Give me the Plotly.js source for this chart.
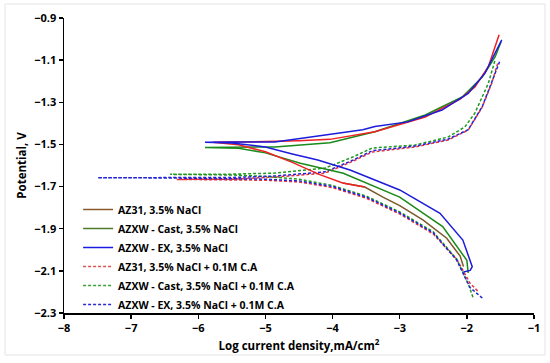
<!DOCTYPE html>
<html>
<head>
<meta charset="utf-8">
<script src="https://cdn.plot.ly/plotly-3.0.1.min.js"></script>
<style>html,body{margin:0;padding:0;background:#fff;}#chart{width:550px;height:363px;}</style>
</head>
<body>
<div id="chart"></div>
<script>
// Series data: log current density (mA/cm2) vs potential (V)
// AZ31, 3.5% NaCl (solid) - upper part red, lower cathodic part brown
const az31_logi = [-3.52, -3.85, -4.2, -4.6, -5.0, -5.4, -5.78, -5.4, -5.0, -4.5, -4.04, -3.37, -2.62, -2.1, -1.88, -1.68, -1.52];
const az31_E    = [-1.702, -1.683, -1.642, -1.585, -1.535, -1.502, -1.490, -1.489, -1.486, -1.482, -1.476, -1.440, -1.370, -1.285, -1.227, -1.131, -0.980];
const az31Low_logi = [-2.05, -2.1, -2.3, -2.65, -3.0, -3.25, -3.52, -3.85];
const az31Low_E    = [-2.080, -2.030, -1.945, -1.859, -1.790, -1.750, -1.702, -1.683];
// AZXW - Cast, 3.5% NaCl (solid)
const cast_logi = [-1.98, -2.0, -2.36, -3.0, -3.84, -4.48, -5.0, -5.4, -5.9, -5.4, -4.86, -4.04, -3.37, -2.62, -2.07, -1.77, -1.58, -1.49];
const cast_E    = [-2.110, -2.050, -1.890, -1.750, -1.637, -1.589, -1.540, -1.518, -1.514, -1.513, -1.512, -1.492, -1.440, -1.360, -1.275, -1.180, -1.085, -1.013];
// AZXW - EX, 3.5% NaCl (solid)
const ex_logi = [-2.05, -1.95, -1.92, -2.06, -2.40, -3.0, -3.74, -4.22, -4.6, -5.0, -5.5, -5.9, -5.5, -4.86, -4.11, -3.55, -3.37, -2.88, -2.37, -1.98, -1.73, -1.48];
const ex_E    = [-2.105, -2.098, -2.080, -1.954, -1.827, -1.716, -1.621, -1.574, -1.545, -1.512, -1.493, -1.490, -1.489, -1.488, -1.455, -1.430, -1.415, -1.393, -1.337, -1.258, -1.162, -1.004];
// AZ31, 3.5% NaCl + 0.1M C.A (dashed)
const az31CA_logi = [-1.84, -1.95, -2.15, -2.5, -3.0, -3.5, -4.0, -4.5, -5.0, -5.5, -6.32, -5.5, -4.86, -4.11, -3.7, -3.41, -2.77, -2.28, -1.98, -1.77, -1.63, -1.54];
const az31CA_E    = [-2.195, -2.160, -2.045, -1.925, -1.830, -1.755, -1.705, -1.678, -1.670, -1.668, -1.666, -1.665, -1.655, -1.636, -1.580, -1.536, -1.512, -1.479, -1.432, -1.322, -1.210, -1.115];
// AZXW - Cast, 3.5% NaCl + 0.1M C.A (dashed)
const castCA_logi = [-1.91, -1.97, -2.15, -2.5, -3.0, -3.5, -4.0, -4.5, -5.0, -5.5, -6.42, -5.5, -4.86, -4.11, -3.7, -3.41, -2.77, -2.28, -2.03, -1.88, -1.68, -1.58];
const castCA_E    = [-2.225, -2.170, -2.045, -1.915, -1.820, -1.745, -1.695, -1.665, -1.652, -1.645, -1.642, -1.641, -1.636, -1.612, -1.560, -1.517, -1.503, -1.465, -1.417, -1.351, -1.210, -1.100];
// AZXW - EX, 3.5% NaCl + 0.1M C.A (dashed)
const exCA_logi = [-1.77, -1.95, -2.15, -2.5, -3.0, -3.5, -4.0, -4.5, -5.0, -5.5, -6.5, -7.5, -6.5, -5.5, -4.86, -4.11, -3.7, -3.41, -2.77, -2.28, -1.98, -1.77, -1.63, -1.51];
const exCA_E    = [-2.229, -2.180, -2.050, -1.920, -1.825, -1.750, -1.700, -1.673, -1.665, -1.662, -1.659, -1.658, -1.658, -1.657, -1.650, -1.630, -1.575, -1.530, -1.508, -1.475, -1.430, -1.320, -1.205, -1.105];

const legendNames = ["AZ31, 3.5% NaCl", "AZXW - Cast, 3.5% NaCl", "AZXW - EX, 3.5% NaCl",
  "AZ31, 3.5% NaCl + 0.1M C.A", "AZXW - Cast, 3.5% NaCl + 0.1M C.A", "AZXW - EX, 3.5% NaCl + 0.1M C.A"];
const legendColors = ["#8a5a2b", "#4f7a28", "#1a1ae0", "#d9534f", "#3aa03a", "#2a2ad0"];
const legendDash = ["solid", "solid", "solid", "3px,2px", "3px,2px", "3px,2px"];
const xTicks = [-8, -7, -6, -5, -4, -3, -2, -1];
const yTicks = [-0.9, -1.1, -1.3, -1.5, -1.7, -1.9, -2.1, -2.3];

const W = 1.5;
const dsh = "3px,2px";
function tr(x, y, color, dash) {
  return {x: x, y: y, mode: "lines", type: "scatter", showlegend: false, hoverinfo: "skip",
          line: {color: color, width: W, dash: dash}};
}
const data = [
  tr(az31CA_logi, az31CA_E, "#e8333a", dsh),
  tr(castCA_logi, castCA_E, "#1f9a1f", dsh),
  tr(exCA_logi, exCA_E, "#2323d6", dsh),
  tr(az31Low_logi, az31Low_E, "#7a5a2a", "solid"),
  tr(cast_logi, cast_E, "#1a8a1a", "solid"),
  tr(az31_logi, az31_E, "#ee2222", "solid"),
  tr(ex_logi, ex_E, "#1c1cdc", "solid")
];
for (let i = 0; i < legendNames.length; i++) {
  data.push({x: [null], y: [null], mode: "lines", type: "scatter", name: legendNames[i],
    showlegend: true, line: {color: legendColors[i], width: 1.5, dash: legendDash[i]}});
}

const fontFam = "'Open Sans', 'Noto Sans', sans-serif";
const layout = {
  width: 550, height: 363,
  margin: {l: 64, r: 16, t: 18, b: 50},
  paper_bgcolor: "#ffffff", plot_bgcolor: "#ffffff",
  showlegend: true,
  font: {family: fontFam, color: "#000", size: 11, weight: 700},
  xaxis: {
    range: [-8, -1], tickvals: xTicks, ticktext: xTicks.map(v => "\u2212" + Math.abs(v)),
    showgrid: false, zeroline: false, showline: true, linecolor: "#000", linewidth: 1.5,
    ticks: "outside", ticklen: 4, tickwidth: 1.5, tickcolor: "#000",
    tickfont: {family: fontFam, size: 11, color: "#000", weight: 700},
    title: {text: "Log current density,mA/cm<sup>2</sup>", font: {family: fontFam, size: 11.5, color: "#000", weight: 700}, standoff: 8}
  },
  yaxis: {
    range: [-2.3, -0.9], tickvals: yTicks, ticktext: yTicks.map(v => "\u2212" + Math.abs(v).toFixed(1)),
    showgrid: false, zeroline: false, showline: true, linecolor: "#000", linewidth: 1.5,
    ticks: "outside", ticklen: 4, tickwidth: 1.5, tickcolor: "#000",
    tickfont: {family: fontFam, size: 11, color: "#000", weight: 700},
    title: {text: "Potential, V", font: {family: fontFam, size: 11.5, color: "#000", weight: 700}, standoff: 5}
  },
  legend: {
    x: 0.03, y: 0.40, xanchor: "left", yanchor: "top",
    bgcolor: "rgba(0,0,0,0)", borderwidth: 0,
    font: {family: fontFam, size: 10.5, color: "#000", weight: 700},
    tracegroupgap: 0, itemwidth: 30
  },
  shapes: [{type: "rect", xref: "paper", yref: "paper", x0: -0.1255, x1: 1.0234, y0: -0.1424, y1: 1.0475,
    line: {color: "#e4e4e4", width: 1}, layer: "below"}]
};
Plotly.newPlot("chart", data, layout, {staticPlot: true, displayModeBar: false});
</script>
</body>
</html>
